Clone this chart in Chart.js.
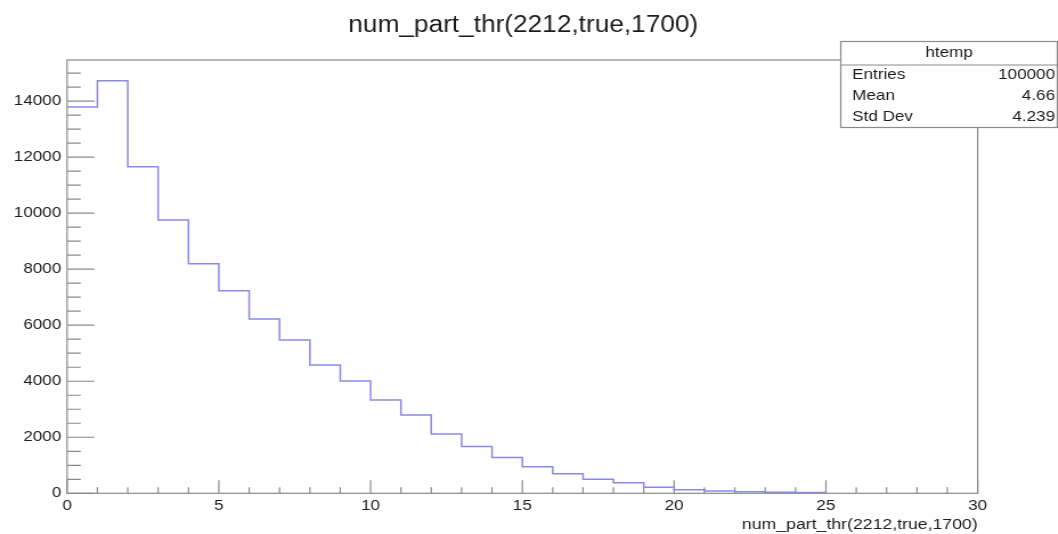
<!DOCTYPE html>
<html>
<head>
<meta charset="utf-8">
<script src="https://cdn.jsdelivr.net/npm/chart.js@4/dist/chart.umd.min.js"></script>
<style>
  html, body { margin: 0; padding: 0; background: #fff; overflow: hidden; }
  /* the canvas is drawn narrower and widened, like the wide ROOT export */
  #wrap { width: 928px; height: 534px; transform: scaleX(1.14); transform-origin: 0 0; }
</style>
</head>
<body>
<div id="wrap"><canvas id="histChart"></canvas></div>
<script>
const histName = 'htemp';
const varTitle = 'num_part_thr(2212,true,1700)';

// bin edges and the counts in each bin (25 bins of width 1)
const binEdges = [0, 1, 2, 3, 4, 5, 6, 7, 8, 9, 10, 11, 12, 13, 14, 15, 16, 17, 18, 19, 20, 21, 22, 23, 24, 25];
const counts = [13790, 14730, 11660, 9757, 8196, 7232, 6221, 5471, 4579, 4007, 3329, 2793, 2114, 1671, 1279, 946, 696, 500, 375, 214, 130, 80, 55, 40, 25];

const xTicks = [0, 5, 10, 15, 20, 25, 30];
const yTicks = [0, 2000, 4000, 6000, 8000, 10000, 12000, 14000];

const statsRows = [
    ['Entries', '100000'],
    ['Mean', '4.66'],
    ['Std Dev', '4.239']
];

const FONT = "'Liberation Sans', Arial, sans-serif";
const TEXT = '#1c1c1c';
const FRAME = '#8a8a8a';

// one point per bin edge, the last one repeats the last bin so the step closes
const stepPoints = binEdges.map((x, i) => ({ x: x, y: counts[Math.min(i, counts.length - 1)] }));

const rootFrame = {
    id: 'rootFrame',
    beforeDatasetsDraw(chart) {
        const { ctx, chartArea: a, scales: { x, y } } = chart;
        ctx.save();
        ctx.strokeStyle = FRAME;
        ctx.lineWidth = 1.2;
        ctx.strokeRect(a.left, a.top, a.right - a.left, a.bottom - a.top);

        // ticks point inwards, long ones on labelled values
        ctx.beginPath();
        for (let v = 0; v <= y.max; v += 500) {
            const py = y.getPixelForValue(v);
            const len = v % 2000 === 0 ? 24 : 12;
            ctx.moveTo(a.left, py);
            ctx.lineTo(a.left + len, py);
        }
        for (let v = 0; v <= x.max; v += 1) {
            const px = x.getPixelForValue(v);
            const len = v % 5 === 0 ? 13 : 6;
            ctx.moveTo(px, a.bottom);
            ctx.lineTo(px, a.bottom - len);
        }
        ctx.stroke();
        ctx.restore();
    },
    afterDraw(chart) {
        const { ctx, chartArea: a } = chart;
        ctx.save();
        ctx.fillStyle = TEXT;

        // histogram title
        ctx.font = '23px ' + FONT;
        ctx.textAlign = 'center';
        ctx.textBaseline = 'alphabetic';
        ctx.fillText(varTitle, 459, 32);

        // x axis title, right aligned under the axis
        ctx.font = '15.5px ' + FONT;
        ctx.textAlign = 'right';
        ctx.fillText(varTitle, a.right, 528.5);

        // stats box
        const bx = 737.5, by = 41.5, bw = 190, bh = 86;
        ctx.fillStyle = '#fff';
        ctx.fillRect(bx, by, bw, bh);
        ctx.strokeStyle = FRAME;
        ctx.lineWidth = 1.2;
        ctx.strokeRect(bx, by, bw, bh);
        ctx.beginPath();
        ctx.moveTo(bx, by + 23.5);
        ctx.lineTo(bx + bw, by + 23.5);
        ctx.stroke();

        ctx.fillStyle = TEXT;
        ctx.font = '15px ' + FONT;
        ctx.textBaseline = 'middle';
        ctx.textAlign = 'center';
        ctx.fillText(histName, bx + bw / 2, by + 11);
        statsRows.forEach((row, i) => {
            const ry = by + 33.5 + i * 21;
            ctx.textAlign = 'left';
            ctx.fillText(row[0], bx + 10, ry);
            ctx.textAlign = 'right';
            ctx.fillText(row[1], bx + bw - 2, ry);
        });
        ctx.restore();
    }
};

new Chart(document.getElementById('histChart'), {
    type: 'line',
    data: {
        datasets: [{
            label: histName,
            data: stepPoints,
            stepped: true,
            borderColor: '#8a8ae6',
            borderWidth: 1.5,
            pointRadius: 0,
            fill: false
        }]
    },
    options: {
        responsive: true,
        maintainAspectRatio: false,
        animation: false,
        layout: {
            padding: { top: 60, right: 70.4, left: 0, bottom: 0 }
        },
        plugins: {
            legend: { display: false },
            tooltip: { enabled: false },
            title: { display: false }
        },
        scales: {
            x: {
                type: 'linear',
                min: 0,
                max: 30,
                grid: { display: false, drawTicks: false },
                border: { display: false },
                afterBuildTicks: s => { s.ticks = xTicks.map(v => ({ value: v })); },
                afterFit: s => { s.height = 40.7; },
                ticks: {
                    autoSkip: false,
                    maxRotation: 0,
                    padding: 4,
                    color: TEXT,
                    font: { family: FONT, size: 15 },
                    callback: v => String(v)
                }
            },
            y: {
                min: 0,
                max: Math.max(...counts) * 1.05,
                grid: { display: false, drawTicks: false },
                border: { display: false },
                afterBuildTicks: s => { s.ticks = yTicks.map(v => ({ value: v })); },
                afterFit: s => { s.width = 58.8; },
                ticks: {
                    padding: 5,
                    color: TEXT,
                    font: { family: FONT, size: 15 },
                    callback: v => String(v)
                }
            }
        }
    },
    plugins: [rootFrame]
});
</script>
</body>
</html>
